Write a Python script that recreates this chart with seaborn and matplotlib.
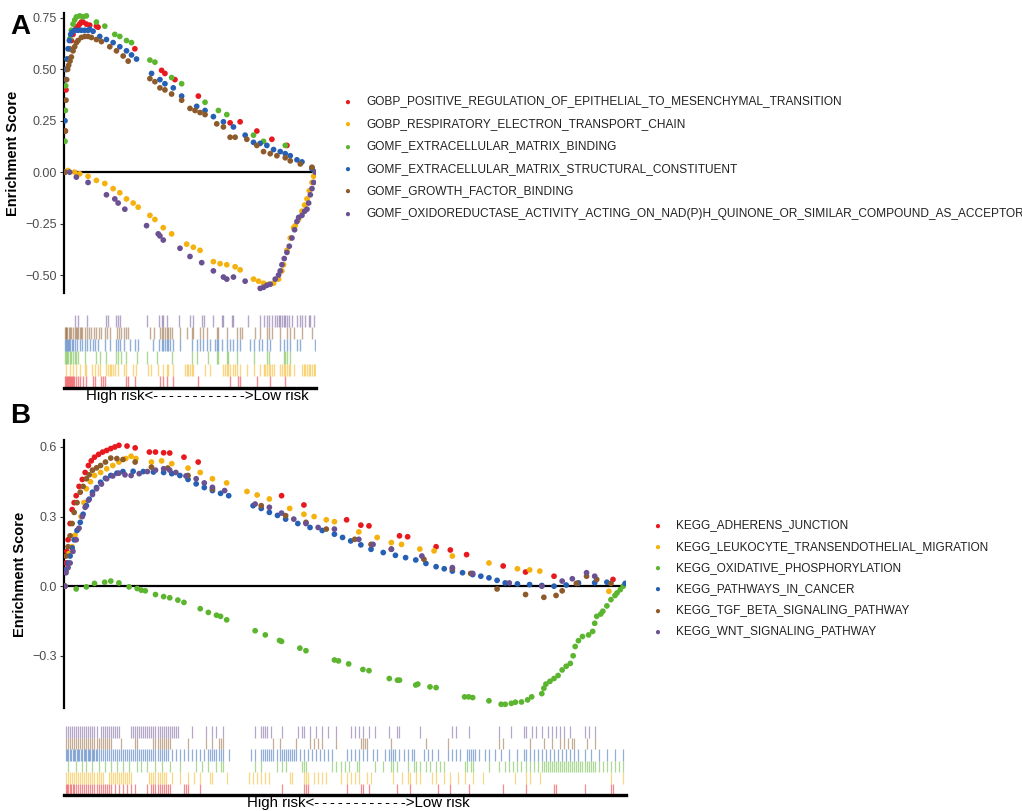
import numpy as np
import pandas as pd
import matplotlib
matplotlib.use("Agg")
import matplotlib.pyplot as plt
import seaborn as sns

sns.set_theme(style="white")
plt.rcParams['font.family'] = ['Liberation Sans', 'DejaVu Sans']

# ---------------- Panel A data ----------------
terms_A = ["GOBP_POSITIVE_REGULATION_OF_EPITHELIAL_TO_MESENCHYMAL_TRANSITION",
           "GOBP_RESPIRATORY_ELECTRON_TRANSPORT_CHAIN",
           "GOMF_EXTRACELLULAR_MATRIX_BINDING",
           "GOMF_EXTRACELLULAR_MATRIX_STRUCTURAL_CONSTITUENT",
           "GOMF_GROWTH_FACTOR_BINDING",
           "GOMF_OXIDOREDUCTASE_ACTIVITY_ACTING_ON_NAD(P)H_QUINONE_OR_SIMILAR_COMPOUND_AS_ACCEPTOR"]
n_genes_A = 750

a_red_rank = [0, 2, 4, 6, 10, 15, 20, 25, 30, 35, 40, 45, 50, 55, 65, 75, 95, 100, 210, 290, 300, 330, 400, 495, 525, 575, 620, 665]
a_red_es = [0.0, 0.2, 0.4, 0.5, 0.55, 0.6, 0.64, 0.67, 0.69, 0.70, 0.71, 0.72, 0.73, 0.73, 0.72, 0.715, 0.71, 0.705, 0.60, 0.495, 0.48, 0.45, 0.37, 0.24, 0.245, 0.20, 0.16, 0.13]

a_orange_rank = [10, 30, 45, 70, 95, 120, 145, 165, 185, 205, 220, 255, 270, 295, 320, 365, 385, 405, 445, 465, 485, 510, 525, 565, 580, 595, 610, 625, 640, 650, 655, 665, 675, 685, 690, 700, 710, 718, 725, 732, 740, 745, 750]
a_orange_es = [0.008, 0.0, -0.008, -0.02, -0.04, -0.055, -0.08, -0.1, -0.13, -0.15, -0.17, -0.21, -0.23, -0.27, -0.30, -0.35, -0.365, -0.38, -0.435, -0.445, -0.45, -0.46, -0.475, -0.52, -0.53, -0.54, -0.545, -0.54, -0.52, -0.48, -0.45, -0.38, -0.32, -0.27, -0.26, -0.23, -0.19, -0.16, -0.13, -0.09, -0.05, -0.02, 0.0]

a_green_rank = [0, 1, 2, 3, 5, 8, 12, 16, 20, 25, 30, 35, 45, 55, 65, 95, 120, 150, 165, 185, 200, 255, 270, 320, 350, 420, 460, 485, 565, 595, 660, 740]
a_green_es = [0.0, 0.15, 0.3, 0.42, 0.5, 0.55, 0.6, 0.65, 0.69, 0.72, 0.74, 0.755, 0.76, 0.755, 0.76, 0.73, 0.71, 0.67, 0.66, 0.64, 0.63, 0.545, 0.535, 0.46, 0.43, 0.34, 0.30, 0.28, 0.18, 0.15, 0.13, 0.02]

a_blue_rank = [0, 1, 2, 4, 7, 10, 14, 18, 22, 30, 40, 50, 60, 70, 75, 85, 105, 125, 145, 165, 185, 200, 215, 260, 285, 300, 325, 350, 395, 420, 445, 475, 505, 540, 565, 585, 605, 625, 645, 660, 675, 695, 710, 740]
a_blue_es = [0.0, 0.25, 0.45, 0.5, 0.55, 0.6, 0.64, 0.67, 0.68, 0.69, 0.69, 0.69, 0.69, 0.69, 0.695, 0.685, 0.66, 0.645, 0.63, 0.61, 0.59, 0.57, 0.55, 0.48, 0.45, 0.43, 0.41, 0.37, 0.32, 0.30, 0.27, 0.245, 0.22, 0.18, 0.145, 0.14, 0.13, 0.11, 0.10, 0.09, 0.08, 0.06, 0.05, 0.016]

a_brown_rank = [0, 2, 4, 6, 9, 12, 16, 20, 25, 30, 35, 40, 50, 60, 70, 80, 95, 110, 135, 155, 175, 190, 255, 270, 285, 300, 320, 350, 375, 390, 405, 420, 455, 475, 495, 510, 545, 575, 595, 615, 635, 660, 675, 705, 740]
a_brown_es = [0.0, 0.2, 0.35, 0.45, 0.5, 0.52, 0.54, 0.56, 0.59, 0.61, 0.63, 0.64, 0.655, 0.66, 0.66, 0.655, 0.645, 0.635, 0.61, 0.59, 0.565, 0.54, 0.455, 0.44, 0.41, 0.40, 0.38, 0.35, 0.31, 0.30, 0.29, 0.28, 0.235, 0.22, 0.17, 0.17, 0.16, 0.13, 0.10, 0.09, 0.08, 0.07, 0.055, 0.04, 0.024]

a_purple_rank = [15, 35, 70, 125, 150, 160, 180, 245, 280, 285, 295, 345, 375, 410, 445, 475, 485, 505, 540, 585, 595, 605, 615, 630, 640, 645, 650, 657, 665, 672, 680, 688, 695, 700, 710, 718, 725, 730, 735, 740, 745, 750]
a_purple_es = [0.0, -0.024, -0.05, -0.11, -0.13, -0.15, -0.18, -0.26, -0.30, -0.31, -0.33, -0.37, -0.41, -0.44, -0.48, -0.51, -0.52, -0.51, -0.53, -0.565, -0.56, -0.55, -0.545, -0.52, -0.50, -0.48, -0.45, -0.42, -0.39, -0.36, -0.32, -0.28, -0.24, -0.22, -0.21, -0.19, -0.18, -0.15, -0.11, -0.08, -0.05, 0.0]

hits_A_red = [0, 3, 6, 9, 12, 15, 18, 21, 25, 29, 33, 40, 45, 55, 65, 85, 90, 110, 115, 120, 185, 190, 210, 285, 295, 305, 325, 400, 495, 520, 525, 575, 615, 660]
hits_A_orange = [5, 15, 25, 33, 45, 60, 65, 83, 90, 100, 105, 125, 130, 135, 140, 145, 150, 160, 177, 183, 205, 213, 250, 257, 280, 295, 305, 310, 325, 360, 365, 370, 375, 380, 385, 420, 435, 475, 480, 485, 490, 495, 505, 510, 515, 525, 545, 565, 585, 595, 600, 605, 610, 615, 620, 625, 645, 650, 655, 660, 665, 670, 675, 685, 710, 715, 720, 725, 730, 735, 740, 745, 750]
hits_A_green = [0, 3, 6, 10, 15, 20, 25, 30, 35, 40, 60, 95, 105, 125, 155, 160, 170, 185, 215, 245, 275, 320, 380, 395, 430, 455, 460, 485, 490, 515, 565, 605, 610, 655, 660, 665, 675]
hits_A_blue = [0, 3, 6, 10, 13, 17, 21, 25, 30, 37, 45, 53, 60, 67, 75, 85, 90, 100, 120, 135, 155, 160, 167, 177, 195, 210, 220, 265, 283, 290, 295, 300, 305, 310, 315, 325, 345, 380, 395, 405, 415, 425, 435, 450, 455, 460, 470, 485, 495, 505, 517, 525, 555, 565, 580, 590, 605, 615, 645, 655, 665, 675, 695, 705, 750]
hits_A_brown = [0, 3, 5, 8, 12, 15, 20, 25, 30, 33, 37, 41, 45, 48, 53, 60, 67, 73, 80, 87, 95, 102, 110, 120, 127, 135, 157, 163, 170, 177, 185, 190, 255, 267, 285, 290, 295, 300, 305, 310, 315, 320, 345, 365, 380, 385, 405, 415, 425, 455, 460, 485, 517, 525, 530, 570, 585, 605, 610, 620, 645, 665, 675, 685, 710, 740]
hits_A_purple = [30, 40, 67, 123, 130, 155, 160, 167, 245, 283, 290, 295, 305, 343, 375, 383, 410, 417, 445, 470, 475, 500, 505, 550, 585, 595, 605, 610, 620, 630, 635, 640, 645, 650, 655, 660, 665, 670, 680, 695, 705, 710, 720, 730, 735, 745]

# ---------------- Panel B data ----------------
terms_B = ["KEGG_ADHERENS_JUNCTION",
           "KEGG_LEUKOCYTE_TRANSENDOTHELIAL_MIGRATION",
           "KEGG_OXIDATIVE_PHOSPHORYLATION",
           "KEGG_PATHWAYS_IN_CANCER",
           "KEGG_TGF_BETA_SIGNALING_PATHWAY",
           "KEGG_WNT_SIGNALING_PATHWAY"]
n_genes_B = 1378

b_red_rank = [0, 3, 5, 8, 13, 18, 23, 28, 35, 43, 50, 58, 65, 73, 83, 93, 103, 113, 123, 133, 153, 173, 208, 223, 243, 258, 293, 328, 533, 588, 693, 728, 748, 823, 843, 913, 948, 988, 1078, 1133, 1203, 1348]
b_red_es = [0.0, 0.10, 0.15, 0.20, 0.27, 0.33, 0.36, 0.39, 0.43, 0.46, 0.49, 0.52, 0.54, 0.556, 0.568, 0.578, 0.585, 0.593, 0.60, 0.607, 0.604, 0.596, 0.578, 0.578, 0.575, 0.574, 0.556, 0.535, 0.39, 0.35, 0.286, 0.263, 0.26, 0.217, 0.213, 0.17, 0.156, 0.136, 0.087, 0.061, 0.043, 0.029]

b_orange_rank = [0, 3, 10, 18, 25, 33, 40, 47, 53, 63, 73, 88, 103, 118, 133, 150, 163, 175, 213, 238, 263, 303, 333, 363, 398, 448, 473, 503, 553, 588, 613, 643, 663, 723, 768, 803, 828, 873, 908, 953, 1043, 1113, 1143, 1168, 1263, 1338, 1378]
b_orange_es = [0.0, 0.07, 0.14, 0.17, 0.22, 0.246, 0.3, 0.36, 0.42, 0.45, 0.477, 0.49, 0.506, 0.52, 0.535, 0.55, 0.56, 0.55, 0.535, 0.54, 0.528, 0.509, 0.49, 0.463, 0.445, 0.408, 0.393, 0.376, 0.335, 0.31, 0.30, 0.286, 0.278, 0.234, 0.21, 0.188, 0.18, 0.16, 0.152, 0.13, 0.10, 0.075, 0.07, 0.065, 0.014, -0.022, 0.007]

b_green_rank = [28, 53, 73, 98, 113, 133, 158, 178, 188, 198, 223, 243, 258, 278, 293, 333, 353, 373, 383, 398, 468, 493, 528, 533, 578, 593, 663, 673, 698, 733, 748, 798, 818, 823, 863, 868, 898, 913, 983, 993, 1003, 1043, 1073, 1083, 1098, 1108, 1123, 1138, 1148, 1173, 1178, 1183, 1193, 1203, 1213, 1223, 1233, 1243, 1250, 1255, 1263, 1273, 1288, 1298, 1303, 1308, 1318, 1323, 1333, 1343, 1353, 1358, 1366, 1373]
b_green_es = [-0.012, -0.003, 0.012, 0.017, 0.022, 0.014, -0.003, -0.01, -0.017, -0.02, -0.036, -0.045, -0.05, -0.06, -0.07, -0.097, -0.113, -0.125, -0.13, -0.145, -0.192, -0.21, -0.234, -0.238, -0.267, -0.278, -0.318, -0.322, -0.335, -0.359, -0.364, -0.398, -0.405, -0.405, -0.426, -0.422, -0.434, -0.437, -0.477, -0.477, -0.48, -0.494, -0.509, -0.509, -0.505, -0.5, -0.499, -0.49, -0.477, -0.463, -0.44, -0.422, -0.41, -0.398, -0.385, -0.361, -0.345, -0.333, -0.30, -0.26, -0.235, -0.217, -0.21, -0.195, -0.16, -0.13, -0.12, -0.108, -0.085, -0.058, -0.04, -0.029, -0.015, 0.0]

b_blue_rank = [0, 3, 8, 13, 18, 23, 30, 38, 45, 53, 60, 68, 78, 88, 100, 113, 128, 143, 168, 193, 218, 243, 263, 283, 303, 323, 343, 363, 383, 403, 463, 483, 503, 523, 543, 573, 603, 633, 663, 683, 703, 728, 753, 783, 813, 838, 863, 888, 913, 933, 953, 978, 1003, 1023, 1043, 1063, 1083, 1113, 1143, 1173, 1203, 1233, 1263, 1303, 1333, 1378]
b_blue_es = [0.0, 0.07, 0.10, 0.13, 0.165, 0.20, 0.24, 0.275, 0.31, 0.347, 0.375, 0.405, 0.425, 0.448, 0.465, 0.477, 0.487, 0.494, 0.495, 0.494, 0.492, 0.49, 0.485, 0.477, 0.46, 0.441, 0.425, 0.412, 0.40, 0.39, 0.347, 0.335, 0.318, 0.305, 0.289, 0.27, 0.253, 0.24, 0.224, 0.21, 0.195, 0.178, 0.159, 0.145, 0.133, 0.123, 0.113, 0.098, 0.084, 0.075, 0.065, 0.058, 0.05, 0.043, 0.036, 0.025, 0.014, 0.01, 0.007, 0.003, 0.0, 0.005, 0.014, 0.015, 0.017, 0.012]

b_brown_rank = [0, 3, 8, 13, 18, 23, 30, 38, 45, 53, 60, 68, 78, 88, 100, 113, 128, 143, 173, 213, 253, 303, 363, 483, 543, 593, 643, 713, 753, 803, 883, 953, 998, 1063, 1133, 1178, 1208, 1223, 1258, 1283, 1308, 1343]
b_brown_es = [0.0, 0.13, 0.17, 0.217, 0.27, 0.318, 0.36, 0.405, 0.43, 0.463, 0.48, 0.50, 0.51, 0.52, 0.535, 0.552, 0.55, 0.546, 0.535, 0.513, 0.509, 0.477, 0.419, 0.347, 0.304, 0.275, 0.246, 0.202, 0.18, 0.16, 0.116, 0.075, 0.055, -0.012, -0.036, -0.048, -0.04, -0.02, 0.012, 0.043, 0.029, 0.012]

b_purple_rank = [0, 3, 8, 13, 20, 28, 35, 43, 50, 58, 68, 78, 90, 103, 118, 133, 148, 163, 183, 203, 223, 243, 258, 273, 298, 323, 343, 363, 393, 468, 503, 533, 563, 593, 623, 663, 723, 758, 803, 878, 953, 1003, 1093, 1173, 1223, 1248, 1283, 1303]
b_purple_es = [0.0, 0.058, 0.08, 0.10, 0.15, 0.20, 0.25, 0.30, 0.34, 0.37, 0.395, 0.42, 0.44, 0.463, 0.475, 0.487, 0.48, 0.477, 0.485, 0.494, 0.50, 0.506, 0.50, 0.49, 0.475, 0.463, 0.445, 0.426, 0.412, 0.354, 0.34, 0.315, 0.289, 0.27, 0.253, 0.246, 0.202, 0.18, 0.159, 0.13, 0.08, 0.055, 0.014, 0.0, 0.022, 0.032, 0.058, 0.043]

hits_B_red = [3, 6, 9, 13, 16, 19, 23, 28, 33, 38, 43, 48, 53, 58, 63, 68, 73, 78, 83, 88, 93, 98, 103, 108, 113, 123, 133, 143, 153, 163, 173, 203, 213, 218, 223, 228, 233, 238, 243, 248, 253, 258, 293, 298, 303, 333, 533, 588, 593, 598, 693, 728, 733, 748, 818, 848, 918, 948, 993, 1078, 1133, 1203, 1208, 1278, 1343, 1348]
hits_B_orange = [3, 8, 13, 18, 23, 28, 33, 38, 43, 48, 53, 58, 63, 68, 73, 78, 83, 88, 93, 108, 113, 118, 123, 128, 133, 138, 143, 148, 153, 158, 163, 208, 213, 218, 223, 228, 233, 238, 243, 248, 263, 283, 303, 318, 333, 358, 363, 398, 453, 463, 473, 483, 493, 503, 553, 558, 588, 593, 598, 613, 623, 633, 643, 678, 693, 703, 713, 723, 743, 753, 808, 828, 843, 848, 863, 873, 903, 913, 933, 948, 968, 983, 1003, 1028, 1108, 1133, 1143, 1168, 1343, 1373]
hits_B_green = [8, 28, 43, 53, 68, 83, 98, 113, 128, 143, 158, 178, 188, 203, 223, 238, 258, 283, 323, 338, 353, 373, 383, 388, 468, 483, 523, 533, 543, 583, 588, 593, 658, 668, 678, 688, 698, 718, 723, 763, 783, 803, 808, 818, 843, 858, 863, 873, 888, 898, 913, 923, 933, 983, 988, 998, 1003, 1043, 1068, 1083, 1093, 1103, 1113, 1123, 1133, 1143, 1153, 1163, 1173, 1178, 1183, 1188, 1193, 1198, 1203, 1208, 1213, 1218, 1223, 1228, 1233, 1238, 1243, 1248, 1253, 1258, 1263, 1268, 1273, 1278, 1283, 1288, 1293, 1298, 1303, 1313, 1323, 1333, 1343, 1353, 1363, 1373]
hits_B_blue = [3, 6, 9, 13, 16, 19, 23, 26, 29, 33, 36, 39, 43, 46, 49, 53, 56, 59, 63, 66, 69, 73, 76, 79, 83, 88, 93, 98, 103, 108, 113, 118, 123, 128, 133, 138, 143, 148, 153, 158, 163, 168, 173, 178, 183, 188, 193, 198, 203, 208, 213, 218, 223, 228, 233, 238, 243, 248, 253, 263, 273, 283, 293, 303, 313, 323, 333, 343, 353, 358, 363, 368, 373, 378, 383, 388, 403, 458, 468, 483, 488, 493, 498, 503, 508, 513, 523, 528, 533, 538, 543, 548, 553, 558, 563, 568, 578, 588, 598, 608, 618, 628, 638, 648, 658, 693, 703, 713, 723, 733, 743, 758, 768, 788, 798, 803, 808, 813, 823, 833, 843, 853, 858, 883, 893, 903, 918, 943, 953, 963, 973, 988, 993, 998, 1003, 1008, 1018, 1033, 1043, 1058, 1073, 1093, 1113, 1128, 1133, 1143, 1153, 1163, 1173, 1183, 1193, 1203, 1213, 1223, 1233, 1243, 1253, 1263, 1278, 1293, 1313, 1333, 1353, 1373]
hits_B_brown = [3, 8, 13, 18, 23, 28, 33, 38, 43, 48, 53, 58, 63, 68, 73, 78, 83, 88, 93, 98, 103, 108, 113, 138, 173, 178, 218, 223, 228, 233, 238, 243, 248, 253, 258, 303, 348, 363, 378, 383, 388, 513, 528, 568, 603, 613, 623, 633, 668, 728, 733, 738, 743, 803, 888, 943, 1068, 1078, 1143, 1178, 1198, 1218, 1228, 1238, 1248, 1253, 1283, 1303]
hits_B_purple = [3, 8, 13, 18, 23, 28, 33, 38, 43, 48, 53, 58, 63, 68, 73, 78, 88, 93, 98, 103, 108, 113, 118, 123, 128, 133, 163, 168, 173, 178, 183, 188, 193, 198, 203, 208, 213, 218, 223, 228, 233, 238, 243, 248, 253, 258, 263, 268, 273, 278, 313, 348, 363, 373, 388, 468, 483, 488, 493, 498, 508, 533, 573, 583, 588, 603, 618, 633, 648, 668, 703, 713, 723, 733, 748, 763, 798, 818, 823, 873, 953, 963, 993, 1068, 1098, 1128, 1133, 1148, 1158, 1173, 1188, 1198, 1208, 1218, 1228, 1243, 1278, 1288, 1303]

palette = ["#E8191E", "#F5B10C", "#5BB52E", "#2660B5", "#8C5A2B", "#6A5192"]
rug_label = "High risk<" + "-\u2009" * 11 + "->Low risk"

curves_A = [(a_red_rank, a_red_es), (a_orange_rank, a_orange_es), (a_green_rank, a_green_es),
            (a_blue_rank, a_blue_es), (a_brown_rank, a_brown_es), (a_purple_rank, a_purple_es)]
hits_A = [hits_A_red, hits_A_orange, hits_A_green, hits_A_blue, hits_A_brown, hits_A_purple]
curves_B = [(b_red_rank, b_red_es), (b_orange_rank, b_orange_es), (b_green_rank, b_green_es),
            (b_blue_rank, b_blue_es), (b_brown_rank, b_brown_es), (b_purple_rank, b_purple_es)]
hits_B = [hits_B_red, hits_B_orange, hits_B_green, hits_B_blue, hits_B_brown, hits_B_purple]


def long_df(terms, curves):
    rows = []
    for t, (r, e) in zip(terms, curves):
        rows.append(pd.DataFrame({"rank": r, "es": e, "term": t}))
    return pd.concat(rows, ignore_index=True)


W, H = 1022, 811
fig = plt.figure(figsize=(W / 100, H / 100), dpi=100)


def fa(l, t, r, b):
    return [l / W, 1 - b / H, (r - l) / W, (b - t) / H]


def draw_panel(ax, rug, terms, curves, hits, n, ylim, yticks, yticklabels, leg_x, leg_y0, leg_dy,
               label, label_xy, leg_fs, rug_lw, xlab_center):
    df = long_df(terms, curves)
    sns.scatterplot(data=df, x="rank", y="es", hue="term", hue_order=terms, palette=palette,
                    s=17, linewidth=0, ax=ax, legend=False, zorder=3)
    ax.axhline(0, color="black", lw=1.6, zorder=2)
    ax.set_xlim(-2, n + 2)
    ax.set_ylim(*ylim)
    ax.set_yticks(yticks)
    ax.set_yticklabels(yticklabels)
    ax.set_xticks([])
    ax.set_xlabel("")
    ax.set_ylabel("Enrichment Score", fontsize=10.5, fontweight="bold", color="black", labelpad=4)
    for s in ["top", "right", "bottom"]:
        ax.spines[s].set_visible(False)
    ax.spines["left"].set_color("black")
    ax.spines["left"].set_linewidth(1.6)
    ax.tick_params(axis="y", left=True, length=3, width=0.8, color="#333333",
                   labelsize=9, labelcolor="#4D4D4D", pad=2)
    ax.set_facecolor("none")

    # rug rows: top = last term, bottom = first term
    k = len(terms)
    for i, (h, c) in enumerate(zip(hits, palette)):
        y0 = i / k
        rug.vlines(h, y0, y0 + 1 / k, color=c, alpha=0.5, lw=rug_lw)
    rug.set_xlim(-2, n + 2)
    rug.set_ylim(0, 1)
    rug.set_yticks([])
    rug.set_xticks([])
    for s in ["top", "right", "left"]:
        rug.spines[s].set_visible(False)
    rug.spines["bottom"].set_color("black")
    rug.spines["bottom"].set_linewidth(2.4)
    rug.set_facecolor("none")
    rug.set_xlabel(rug_label, fontsize=10.8, color="black", labelpad=1)
    rug.xaxis.set_label_coords(xlab_center, -0.02, transform=rug.transAxes)
    rug.xaxis.label.set_va("top")

    for i, (t, c) in enumerate(zip(terms, palette)):
        y = (leg_y0 + i * leg_dy)
        fig.text(leg_x / W, 1 - y / H, "\u25CF", color=c, fontsize=7, ha="center", va="center")
        fig.text((leg_x + 19) / W, 1 - y / H, t, color="#222222", fontsize=leg_fs, ha="left", va="center")

    fig.text(label_xy[0] / W, 1 - label_xy[1] / H, label, fontsize=20, fontweight="bold",
             ha="center", va="center", color="black")


axA = fig.add_axes(fa(64, 13, 316, 293))
rugA = fig.add_axes(fa(64, 315, 316, 388))
draw_panel(axA, rugA, terms_A, curves_A, hits_A, n_genes_A, (-0.5875, 0.774),
           [-0.5, -0.25, 0.0, 0.25, 0.5, 0.75], ["\u22120.50", "\u22120.25", "0.00", "0.25", "0.50", "0.75"],
           347, 101.5, 22.4, "A", (20, 27), 8.55, 1.0, 0.528)

axB = fig.add_axes(fa(64, 440, 626, 708))
rugB = fig.add_axes(fa(64, 726, 626, 795))
draw_panel(axB, rugB, terms_B, curves_B, hits_B, n_genes_B, (-0.525, 0.630),
           [-0.3, 0.0, 0.3, 0.6], ["\u22120.3", "0.0", "0.3", "0.6"],
           657, 525.5, 21.2, "B", (20, 416), 8.5, 0.9, 0.523)

fig.savefig("out.png", dpi=100)
